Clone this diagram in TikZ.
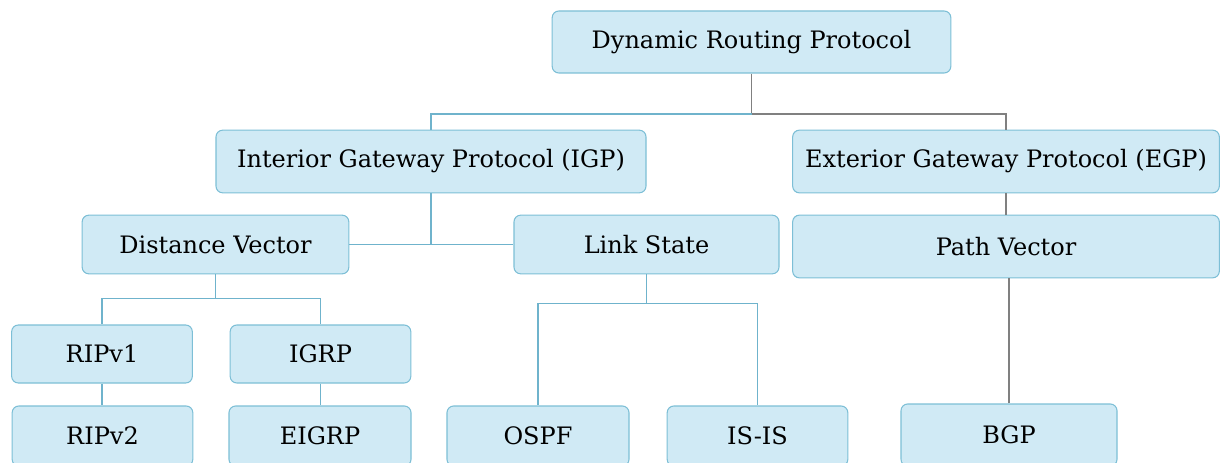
\documentclass[tikz,border=0pt]{standalone}
\usepackage{fontspec}
\setmainfont{DejaVu Serif}
\usetikzlibrary{positioning}
\definecolor{boxfill}{HTML}{D0EAF5}
\definecolor{boxline}{HTML}{7DBFD6}
\definecolor{linkblue}{HTML}{6FB3CC}
\definecolor{linkgray}{HTML}{808080}
\begin{document}
\begin{tikzpicture}[x=0.75pt, y=-0.75pt, font=\fontsize{18}{20}\selectfont,
  proto/.style={draw=boxline, fill=boxfill, rounded corners=5pt, inner sep=0pt,
                line width=0.8pt, text=black},
  wide/.style={proto, minimum width=320pt, minimum height=47pt},
  mid/.style={proto, minimum width=200pt, minimum height=44pt},
  leaf/.style={proto, minimum width=135.5pt, minimum height=43.5pt},
  link/.style={draw=linkblue, line width=0.8pt},
  linkg/.style={draw=linkgray, line width=0.8pt}]
  \useasboundingbox (0,0) rectangle (1220,463);
  % levels
  \node[proto, minimum width=299pt, minimum height=46.5pt] (drp) at (751.5,42) {Dynamic Routing Protocol};
  \node[wide, minimum width=322.5pt] (igp) at (431,161.5) {Interior Gateway Protocol (IGP)};
  \node[wide] (egp) at (1006,161.5) {Exterior Gateway Protocol (EGP)};
  \node[mid] (dv) at (215.5,244.5) {Distance Vector};
  \node[mid, minimum width=198.75pt] (ls) at (646.5,244.5) {Link State};
  \node[wide] (pv) at (1006,246.5) {Path Vector};
  \node[leaf] (rip1) at (102,354) {RIPv1};
  \node[leaf] (igrp) at (320.5,354) {IGRP};
  \node[leaf, minimum height=45pt] (rip2) at (102.5,436) {RIPv2};
  \node[leaf, minimum width=136.5pt, minimum height=45pt] (eigrp) at (320,436) {EIGRP};
  \node[leaf, minimum width=136.5pt, minimum height=45pt] (ospf) at (538,436) {OSPF};
  \node[leaf, minimum height=45pt] (isis) at (757.5,436) {IS-IS};
  \node[proto, minimum width=162pt, minimum height=46.5pt] (bgp) at (1009,435) {BGP};
  % connectors
  \coordinate (jtop) at (751.5,114);
  \draw[linkg] (drp.south) -- (jtop);
  \draw[link] (jtop) -| (igp.north);
  \draw[linkg] (jtop) -| (egp.north);
  \draw[link] (dv.east) -- (ls.west);
  \draw[link] (igp.south) -- (igp.south |- dv.east);
  \draw[linkg] (egp.south) -- (pv.north);
  \draw[linkg] (bgp.north) -- (bgp.north |- pv.south);
  \draw[link] (dv.south) -- ++(0,24) coordinate (jdv);
  \draw[link] (rip1.north) |- (jdv) -| (igrp.north);
  \draw[link] (rip1.south) -- (rip1.south |- rip2.north);
  \draw[link] (igrp.south) -- (igrp.south |- eigrp.north);
  \draw[link] (ls.south) -- ++(0,29) coordinate (jls);
  \draw[link] (ospf.north) |- (jls) -| (isis.north);
\end{tikzpicture}
\end{document}
